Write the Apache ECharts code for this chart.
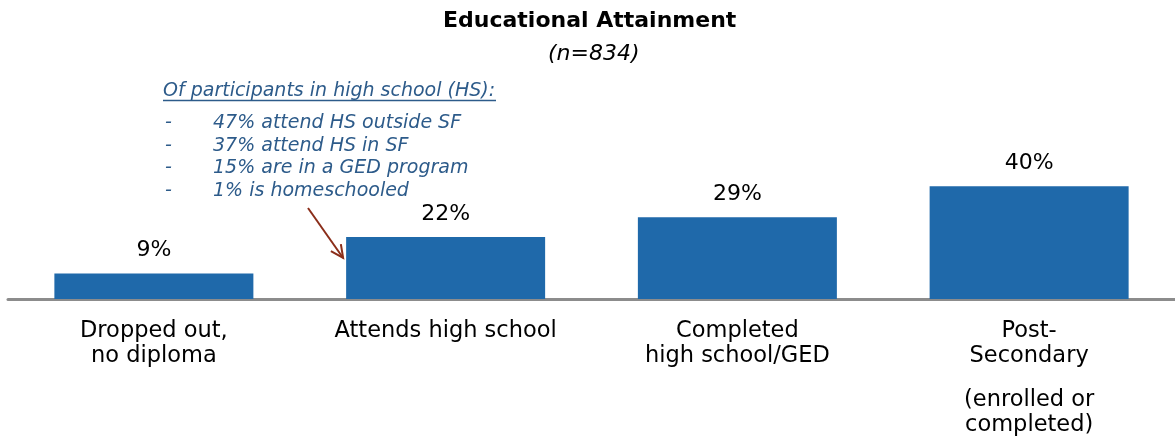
<!DOCTYPE html>
<html>
<head>
<meta charset="utf-8">
<script src="https://cdn.jsdelivr.net/npm/echarts@6/dist/echarts.min.js"></script>
<style>
  html, body { margin: 0; padding: 0; background: #fff; }
  #chart { width: 1175px; height: 438px; }
</style>
</head>
<body>
<div id="chart"></div>
<script>
// Educational attainment of participants (n=834)
const categories = [
  'Dropped out,\nno diploma',
  'Attends high school',
  'Completed\nhigh school/GED',
  'Post-\nSecondary\n{gap| }\n(enrolled or\ncompleted)'
];
const percentages = [9, 22, 29, 40];

const noteTitle = 'Of participants in high school (HS):';
const noteItems = [
  '47% attend HS outside SF',
  '37% attend HS in SF',
  '15% are in a GED program',
  '1% is homeschooled'
];

const FONT = 'DejaVu Sans';
const BAR_COLOR = '#1f69aa';
const NOTE_COLOR = '#2d5b8a';
const ARROW_COLOR = '#8b2e1a';

const chart = echarts.init(document.getElementById('chart'));

const noteStyle = { fontFamily: FONT, fontStyle: 'italic', fontSize: 19, fill: NOTE_COLOR };
const noteGraphics = [
  {
    type: 'text', left: 163, top: 82,
    style: Object.assign({ text: noteTitle }, noteStyle)
  },
  {
    type: 'line',
    shape: { x1: 163, y1: 100.5, x2: 496, y2: 100.5 },
    style: { stroke: NOTE_COLOR, lineWidth: 1.3 }
  }
];
noteItems.forEach(function (t, i) {
  const y = 114 + i * 22.4;
  noteGraphics.push({
    type: 'text', left: 165, top: y,
    style: Object.assign({ text: '-' }, noteStyle)
  });
  noteGraphics.push({
    type: 'text', left: 213, top: y,
    style: Object.assign({ text: t }, noteStyle)
  });
});

chart.setOption({
  animation: false,
  title: [
    {
      text: 'Educational Attainment',
      left: 443,
      top: 10,
      padding: 0,
      textStyle: { fontFamily: FONT, fontWeight: 'bold', fontSize: 22, color: '#000' }
    },
    {
      text: '(n=834)',
      left: 548,
      top: 43,
      padding: 0,
      textStyle: { fontFamily: FONT, fontStyle: 'italic', fontWeight: 'normal', fontSize: 22, color: '#000' }
    }
  ],
  grid: { left: 8, right: 0, top: 158, bottom: 137, containLabel: false },
  xAxis: {
    type: 'category',
    data: categories,
    axisLine: { lineStyle: { color: '#8c8c8c', width: 3 } },
    axisTick: { show: false },
    axisLabel: {
      interval: 0,
      margin: 20,
      fontFamily: FONT,
      fontSize: 22.5,
      color: '#000',
      lineHeight: 25,
      rich: { gap: { fontSize: 10, lineHeight: 19 } }
    }
  },
  yAxis: {
    type: 'value', min: 0, max: 50, show: false,
    splitLine: { show: false }
  },
  series: [{
    type: 'bar',
    data: percentages,
    barWidth: 199,
    itemStyle: { color: BAR_COLOR },
    label: {
      show: true,
      position: 'top',
      distance: 12,
      formatter: '{c}%',
      fontFamily: FONT,
      fontSize: 22,
      color: '#000'
    }
  }],
  graphic: noteGraphics
});

// Arrow pointing from the note to the left edge of the "Attends high school" bar
const barBase = chart.convertToPixel({ seriesIndex: 0 }, [1, 0]);
const barTop = chart.convertToPixel({ seriesIndex: 0 }, [1, percentages[1]]);
const ex = barBase[0] - 199 / 2 - 3;
const ey = barTop[1] + 21;
const sx = 308, sy = 208;
const ang = Math.atan2(ey - sy, ex - sx);
const hl = 14, ha = 0.45;
chart.setOption({
  graphic: noteGraphics.concat([
    {
      type: 'line',
      shape: { x1: sx, y1: sy, x2: ex, y2: ey },
      style: { stroke: ARROW_COLOR, lineWidth: 2 }
    },
    {
      type: 'polyline',
      shape: { points: [
        [ex - hl * Math.cos(ang - ha), ey - hl * Math.sin(ang - ha)],
        [ex, ey],
        [ex - hl * Math.cos(ang + ha), ey - hl * Math.sin(ang + ha)]
      ] },
      style: { stroke: ARROW_COLOR, lineWidth: 2, fill: null }
    }
  ])
});
</script>
</body>
</html>
